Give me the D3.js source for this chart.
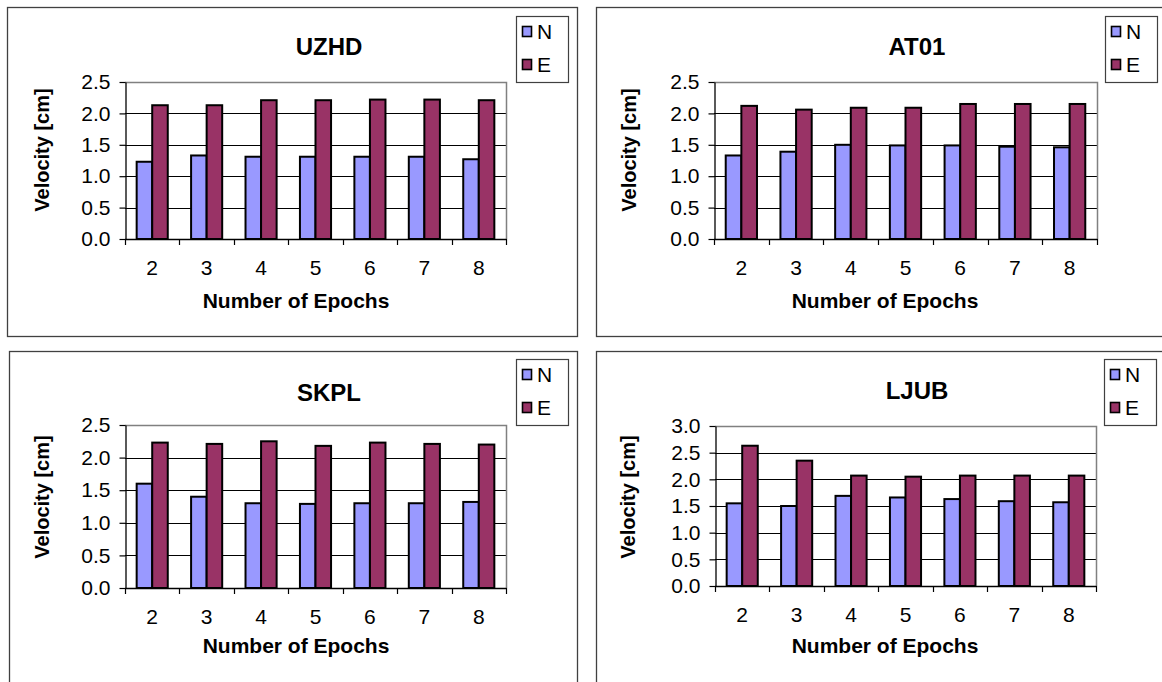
<!DOCTYPE html>
<html>
<head>
<meta charset="utf-8">
<script src="https://cdn.jsdelivr.net/npm/d3@7"></script>
<style>
  html, body { margin: 0; padding: 0; background: #fff; }
  svg { display: block; }
  text { font-family: Arial, "Liberation Sans", sans-serif; fill: #000; }
</style>
</head>
<body>
<svg id="chart" width="1162" height="682"></svg>
<script>
// ---------- data ----------
const epochs = ["2", "3", "4", "5", "6", "7", "8"];
const seriesNames = ["N", "E"];
const stations = ["UZHD", "AT01", "SKPL", "LJUB"];

const uzhdN = [1.23, 1.33, 1.31, 1.31, 1.31, 1.31, 1.27];
const uzhdE = [2.13, 2.13, 2.21, 2.21, 2.22, 2.22, 2.21];
const at01N = [1.33, 1.39, 1.50, 1.49, 1.49, 1.47, 1.46];
const at01E = [2.12, 2.06, 2.09, 2.09, 2.15, 2.15, 2.15];
const skplN = [1.60, 1.40, 1.30, 1.29, 1.30, 1.30, 1.32];
const skplE = [2.23, 2.21, 2.25, 2.18, 2.23, 2.21, 2.20];
const ljubN = [1.55, 1.50, 1.69, 1.66, 1.63, 1.59, 1.57];
const ljubE = [2.63, 2.35, 2.07, 2.05, 2.07, 2.07, 2.07];

const yTicks25 = [0, 0.5, 1.0, 1.5, 2.0, 2.5];
const yTicks30 = [0, 0.5, 1.0, 1.5, 2.0, 2.5, 3.0];

const xTitle = "Number of Epochs";
const yTitle = "Velocity [cm]";

// ---------- layout ----------
const colors = ["#9999FF", "#993366"];
const panels = [
  { name: stations[0], N: uzhdN, E: uzhdE, ticks: yTicks25,
    box: [7, 7, 570, 329], plot: [125, 82, 506, 239],
    legend: [516, 16], title: [329, 47], ylab: [42, 150], xlab: [296, 301], xt: 268 },
  { name: stations[1], N: at01N, E: at01E, ticks: yTicks25,
    box: [596, 7, 580, 329], plot: [714, 82, 1097, 239],
    legend: [1105, 16], title: [917, 47], ylab: [629, 150], xlab: [885, 301], xt: 268 },
  { name: stations[2], N: skplN, E: skplE, ticks: yTicks25,
    box: [9, 351, 568, 400], plot: [125, 425, 506, 588],
    legend: [516, 359], title: [329, 393], ylab: [42, 497], xlab: [296, 646], xt: 617 },
  { name: stations[3], N: ljubN, E: ljubE, ticks: yTicks30,
    box: [596, 351, 580, 400], plot: [715, 426, 1096, 586],
    legend: [1104, 359], title: [917, 391], ylab: [628, 497], xlab: [885, 646], xt: 615 }
];

const svg = d3.select("#chart");

panels.forEach(p => {
  const g = svg.append("g");
  // panel frame
  g.append("rect")
    .attr("x", p.box[0] + 0.5).attr("y", p.box[1] + 0.5)
    .attr("width", p.box[2]).attr("height", p.box[3])
    .attr("fill", "#fff").attr("stroke", "#404040").attr("stroke-width", 1.3);

  const [x0, y0, x1, y1] = p.plot;
  const yMax = p.ticks[p.ticks.length - 1];
  const y = d3.scaleLinear().domain([0, yMax]).range([y1, y0]);
  const x = d3.scaleBand().domain(epochs).range([x0, x1]).paddingInner(0).paddingOuter(0);
  const xs = d3.scaleBand().domain(seriesNames).range([0, x.bandwidth()]).paddingInner(0).paddingOuter(0.75);

  // gridlines
  g.append("g").selectAll("line").data(p.ticks.slice(1, -1)).join("line")
    .attr("x1", x0).attr("x2", x1)
    .attr("y1", d => Math.round(y(d)) + 0.5).attr("y2", d => Math.round(y(d)) + 0.5)
    .attr("stroke", "#000").attr("stroke-width", 1);

  // plot border (top + right, gray)
  g.append("path")
    .attr("d", `M${x0},${Math.round(y0) + 0.5}H${x1 + 0.5}V${y1}`)
    .attr("fill", "none").attr("stroke", "#808080").attr("stroke-width", 1.5);

  // bars
  const rows = epochs.map((e, i) => ({ e, vals: [p.N[i], p.E[i]] }));
  g.append("g").selectAll("g").data(rows).join("g")
    .attr("transform", d => `translate(${x(d.e)},0)`)
    .selectAll("rect").data(d => d.vals.map((v, k) => ({ k, v }))).join("rect")
    .attr("x", d => xs(seriesNames[d.k]))
    .attr("width", xs.bandwidth())
    .attr("y", d => y(d.v))
    .attr("height", d => y(0) - y(d.v))
    .attr("fill", d => colors[d.k])
    .attr("stroke", "#000").attr("stroke-width", 2);

  // y axis
  const yAxis = d3.axisLeft(y).tickValues(p.ticks).tickFormat(d3.format(".1f"))
    .tickSizeInner(6).tickSizeOuter(0).tickPadding(9);
  const ya = g.append("g").attr("transform", `translate(${x0 + 0.5},0)`).call(yAxis);
  ya.select(".domain").attr("stroke", "#000").attr("stroke-width", 1.3);
  ya.selectAll(".tick line").attr("stroke", "#000").attr("stroke-width", 1.2);
  ya.selectAll("text").attr("font-size", 21).attr("font-family", "Arial, 'Liberation Sans', sans-serif").attr("fill", "#000");

  // x axis (ticks between categories)
  const boundaries = d3.range(epochs.length + 1).map(i => x0 + i * x.step());
  g.append("line").attr("x1", x0).attr("x2", x1 + 0.5)
    .attr("y1", y1 + 0.5).attr("y2", y1 + 0.5).attr("stroke", "#000").attr("stroke-width", 1.5);
  g.append("g").selectAll("line").data(boundaries).join("line")
    .attr("x1", d => Math.round(d) + 0.5).attr("x2", d => Math.round(d) + 0.5)
    .attr("y1", y1).attr("y2", y1 + 6)
    .attr("stroke", "#000").attr("stroke-width", 1.2);
  g.append("g").selectAll("text").data(epochs).join("text")
    .attr("x", d => x(d) + x.bandwidth() / 2)
    .attr("y", p.xt).attr("dy", "0.35em")
    .attr("text-anchor", "middle").attr("font-size", 21)
    .text(d => d);

  // titles
  g.append("text").attr("x", p.title[0]).attr("y", p.title[1]).attr("dy", "0.35em")
    .attr("text-anchor", "middle").attr("font-size", 24).attr("font-weight", "bold")
    .text(p.name);
  g.append("text").attr("x", p.xlab[0]).attr("y", p.xlab[1]).attr("dy", "0.35em")
    .attr("text-anchor", "middle").attr("font-size", 21).attr("font-weight", "bold")
    .text(xTitle);
  g.append("text")
    .attr("transform", `translate(${p.ylab[0]},${p.ylab[1]}) rotate(-90)`)
    .attr("dy", "0.35em")
    .attr("text-anchor", "middle").attr("font-size", 20).attr("font-weight", "bold")
    .text(yTitle);

  // legend
  const [lx, ly] = p.legend;
  const lg = g.append("g");
  lg.append("rect").attr("x", lx + 0.5).attr("y", ly + 0.5).attr("width", 52).attr("height", 66)
    .attr("fill", "#fff").attr("stroke", "#404040").attr("stroke-width", 1.2);
  seriesNames.forEach((s, k) => {
    const cy = ly + 16 + k * 33;
    lg.append("rect").attr("x", lx + 6.5).attr("y", cy - 5.5).attr("width", 9).attr("height", 10)
      .attr("fill", colors[k]).attr("stroke", "#000").attr("stroke-width", 1.6);
    lg.append("text").attr("x", lx + 21).attr("y", cy).attr("dy", "0.35em")
      .attr("font-size", 21).text(s);
  });
});
</script>
</body>
</html>
